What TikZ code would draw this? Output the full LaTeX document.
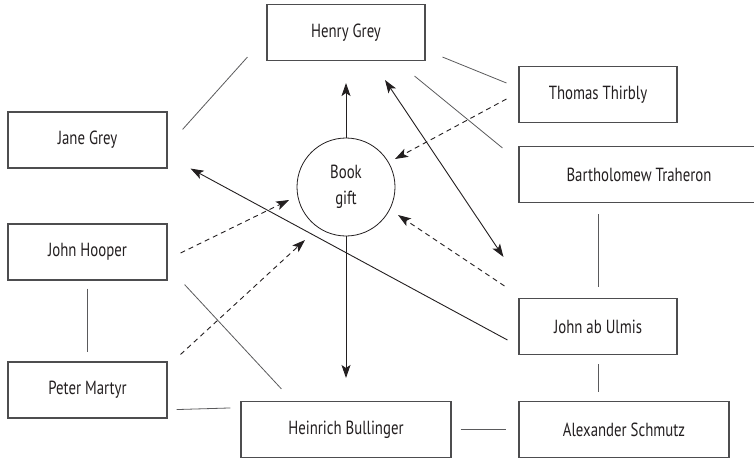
\documentclass[tikz,border=0pt]{standalone}
\usepackage{fontspec}
\setmainfont{PT Sans}[FakeStretch=0.78]
\usetikzlibrary{arrows.meta,calc}
\definecolor{Ink}{HTML}{231F20}
\definecolor{Edge}{HTML}{4D4D4F}
\definecolor{Rule}{HTML}{5A5A5C}

\tikzset{
  person/.style={draw=Edge,line width=1.1pt,minimum height=56pt,inner sep=0pt,
    text=Ink,font=\fontsize{19}{26}\selectfont},
  gift/.style={draw=Ink,circle,line width=.8pt,minimum size=98pt,inner sep=0pt,
    align=center,text=Ink,font=\fontsize{19}{26}\selectfont},
  link/.style={Rule,line width=.8pt},
  flow/.style={Ink,line width=.9pt,-{Stealth[length=13pt,width=9pt,inset=3pt]}},
  hint/.style={flow,dash pattern=on 5pt off 4pt}
}

\begin{document}
\begin{tikzpicture}[x=1pt,y=-1pt]
  \useasboundingbox (0,0) rectangle (754,458);
  \clip (0,0) rectangle (754,458);

  % people
  \node[person,minimum width=158pt] (henry) at (346,32.5) {Henry Grey};
  \node[person,minimum width=158pt] (thomas) at (598,94.5) {Thomas Thirbly};
  \node[person,minimum width=240pt] (barth) at (639,174.5) {Bartholomew Traheron};
  \node[person,minimum width=159pt] (jane) at (87.5,140) {Jane Grey};
  \node[person,minimum width=159pt] (hooper) at (87.5,252) {John Hooper};
  \node[person,minimum width=159pt] (martyr) at (87.5,390) {Peter Martyr};
  \node[person,minimum width=158pt] (ulmis) at (598,326.5) {John ab Ulmis};
  \node[person,minimum width=210pt] (bulling) at (346,429.5) {Heinrich Bullinger};
  \node[person,minimum width=210pt] (schmutz) at (624,429.5) {Alexander Schmutz};
  \node[gift] (book) at (346,187) {Book\\gift};

  % plain ties
  \draw[link] ($(henry.south west)+(-19,-4)$) -- ($(jane.north east)+(15,18)$);
  \draw[link] ($(henry.south east)+(17,-4)$) -- ($(thomas.west)+(-12,-11.5)$);
  \draw[link] ($(henry.south east)+(-11,15)$) -- ($(barth.north west)+(-16,2)$);
  \draw[link,shorten <=8pt,shorten >=9pt] (hooper) -- (martyr);
  \draw[link] ($(hooper.south east)+(17,4)$) -- ($(bulling.north west)+(41,-12)$);
  \draw[link] ($(martyr.south east)+(9,-9)$) -- ($(bulling.north west)+(-10,7)$);
  \draw[link,shorten <=9pt,shorten >=12pt] (bulling) -- (schmutz);
  \draw[link,shorten <=11pt,shorten >=11pt] (ulmis.north |- barth.south) -- (ulmis.north);
  \draw[link,shorten <=9pt,shorten >=9pt] (ulmis.south) -- (ulmis.south |- schmutz.north);

  % the gift
  \draw[flow,shorten >=22pt] (book) -- (henry);
  \draw[flow,shorten >=23pt] (book) -- (bulling);
  \draw[flow,{Stealth[length=13pt,width=9pt,inset=3pt]}-{Stealth[length=13pt,width=9pt,inset=3pt]}]
    ($(henry.south)+(39,19)$) -- ($(ulmis.north west)+(-15,-41)$);
  \draw[flow] ($(ulmis.west)+(-11,13.5)$) -- ($(jane.south east)+(23,0)$);
  \draw[hint] ($(thomas.west)+(-12,4.5)$) -- ($(book)+(49,-28)$);
  \draw[hint] ($(hooper.east)+(13,1)$) -- ($(book)+(-57,13)$);
  \draw[hint] ($(martyr.north east)+(13,-7)$) -- ($(book)+(-41,53)$);
  \draw[hint] ($(ulmis.north west)+(-14,-12)$) -- ($(book)+(52,28)$);
\end{tikzpicture}
\end{document}
